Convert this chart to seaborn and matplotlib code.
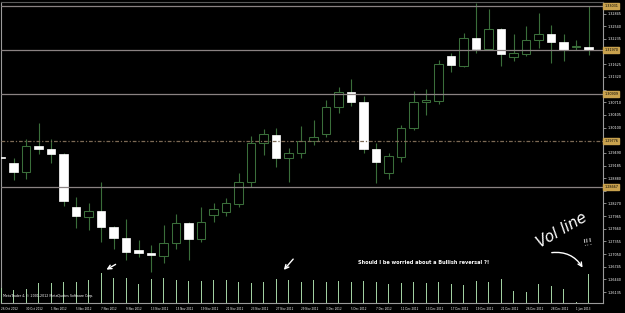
import numpy as np
import pandas as pd
import matplotlib
matplotlib.use("Agg")
import matplotlib.pyplot as plt
import seaborn as sns

# ---------------- data (EURUSD daily) ----------------
dates = ["26 Oct 2012", "29 Oct 2012", "30 Oct 2012", "31 Oct 2012", "1 Nov 2012", "2 Nov 2012",
         "5 Nov 2012", "6 Nov 2012", "7 Nov 2012", "8 Nov 2012", "9 Nov 2012", "12 Nov 2012",
         "13 Nov 2012", "14 Nov 2012", "15 Nov 2012", "16 Nov 2012", "19 Nov 2012", "20 Nov 2012",
         "21 Nov 2012", "22 Nov 2012", "23 Nov 2012", "26 Nov 2012", "27 Nov 2012", "28 Nov 2012",
         "29 Nov 2012", "30 Nov 2012", "3 Dec 2012", "4 Dec 2012", "5 Dec 2012", "6 Dec 2012",
         "7 Dec 2012", "10 Dec 2012", "11 Dec 2012", "12 Dec 2012", "13 Dec 2012", "14 Dec 2012",
         "17 Dec 2012", "18 Dec 2012", "19 Dec 2012", "20 Dec 2012", "21 Dec 2012", "24 Dec 2012",
         "26 Dec 2012", "27 Dec 2012", "28 Dec 2012", "31 Dec 2012", "1 Jan 2013", "2 Jan 2013"]

open_ = [1.29391, 1.29246, 1.29029, 1.29656, 1.29584, 1.29463, 1.28185, 1.27945, 1.28089, 1.27704,
         1.27439, 1.27149, 1.27077, 1.27005, 1.27318, 1.27800, 1.27414, 1.27993, 1.28065, 1.28258,
         1.28788, 1.29728, 1.29921, 1.29367, 1.29487, 1.29776, 1.29945, 1.30596, 1.30957, 1.30716,
         1.29584, 1.29005, 1.29391, 1.30090, 1.30716, 1.30740, 1.31825, 1.31584, 1.32259, 1.31994,
         1.32476, 1.31801, 1.31873, 1.32211, 1.32356, 1.32163, 1.32042, 1.32042]
high = [1.29415, 1.29367, 1.29825, 1.30210, 1.29825, 1.29487, 1.28426, 1.28282, 1.28788, 1.27728,
        1.27896, 1.27390, 1.27270, 1.27752, 1.28017, 1.27824, 1.28185, 1.28282, 1.28402, 1.29005,
        1.29897, 1.30065, 1.30090, 1.29608, 1.30138, 1.30282, 1.30764, 1.31078, 1.31271, 1.30861,
        1.29728, 1.29487, 1.30162, 1.30981, 1.31030, 1.31729, 1.31898, 1.32380, 1.33103, 1.32958,
        1.32500, 1.32356, 1.32548, 1.32862, 1.32573, 1.32356, 1.32211, 1.33031]
low = [1.29343, 1.28836, 1.28860, 1.29463, 1.29246, 1.28210, 1.27680, 1.27631, 1.27342, 1.27173,
       1.26908, 1.26981, 1.26619, 1.26836, 1.27173, 1.26908, 1.27342, 1.27824, 1.27969, 1.28185,
       1.28667, 1.29439, 1.29150, 1.28788, 1.29367, 1.29680, 1.29873, 1.30451, 1.30620, 1.29487,
       1.28764, 1.28860, 1.29270, 1.30041, 1.30403, 1.30668, 1.31439, 1.31560, 1.31898, 1.31970,
       1.31584, 1.31705, 1.31825, 1.32018, 1.31656, 1.31705, 1.31970, 1.31849]
close = [1.29367, 1.29029, 1.29656, 1.29584, 1.29463, 1.28330, 1.27969, 1.28089, 1.27704, 1.27439,
         1.27101, 1.27077, 1.27029, 1.27318, 1.27800, 1.27414, 1.27824, 1.28137, 1.28282, 1.28788,
         1.29728, 1.29945, 1.29367, 1.29487, 1.29776, 1.29873, 1.30596, 1.30957, 1.30716, 1.29584,
         1.29270, 1.29415, 1.30090, 1.30716, 1.30764, 1.31632, 1.31608, 1.32259, 1.31994, 1.32476,
         1.31873, 1.31898, 1.32211, 1.32356, 1.32163, 1.31970, 1.32066, 1.31970]
volume = [45000, 39000, 42000, 60000, 60000, 63000, 63000, 69000, 90000, 75000,
          75000, 57000, 72000, 75000, 69000, 66000, 66000, 69000, 69000, 63000,
          60000, 63000, 72000, 69000, 63000, 69000, 63000, 66000, 63000, 66000,
          63000, 57000, 60000, 63000, 60000, 63000, 57000, 54000, 66000, 63000,
          72000, 36000, 33000, 57000, 51000, 42000, 3000, 87000]

hline_prices = [1.33031, 1.31970, 1.30909, 1.28667]
dotted_price = 1.29776
price_ticks = ["1.26135", "1.26440", "1.26745", "1.27050", "1.27355", "1.27660", "1.27965",
               "1.28270", "1.28575", "1.28880", "1.29185", "1.29490", "1.29795", "1.30100",
               "1.30405", "1.30710", "1.31015", "1.31320", "1.31625", "1.31930", "1.32235",
               "1.32540", "1.32845"]

df = pd.DataFrame({"date": dates, "open": open_, "high": high, "low": low,
                   "close": close, "volume": volume})
df["i"] = np.arange(len(df))

# ---------------- style ----------------
sns.set_theme(style="dark", rc={"axes.facecolor": "black", "figure.facecolor": "black",
                                "axes.grid": False})
plt.rcParams["font.family"] = ["DejaVu Sans"]

W, H = 625, 313
fig = plt.figure(figsize=(W / 100, H / 100), dpi=100)
fig.patch.set_facecolor("black")

def fx(px):
    return px / W

def fy(py):
    return 1 - py / H

ax = fig.add_axes([fx(1), fy(303), fx(603) - fx(1), fy(2) - fy(303)])
ax.set_facecolor("black")

wick_col = "#3a6e3a"
x = df["i"].to_numpy()
o = df["open"].to_numpy(); c = df["close"].to_numpy()
up = c >= o
body_lo = np.minimum(o, c)
body_h = np.abs(c - o)

ax.vlines(x, df["low"], df["high"], color=wick_col, lw=0.8, zorder=2)
ax.bar(x[up], body_h[up], bottom=body_lo[up], width=0.7, facecolor="black",
       edgecolor=wick_col, linewidth=0.75, zorder=3)
ax.bar(x[~up], body_h[~up], bottom=body_lo[~up], width=0.68, facecolor="white",
       edgecolor="white", linewidth=0.5, zorder=3)

line_col = "#8a8282"
for p in hline_prices:
    ax.axhline(p, color=line_col, lw=0.9, zorder=5)
ax.axhline(dotted_price, color="#7d6a55", lw=0.9, ls=(0, (3, 1.5, 1, 1.5)), zorder=5)

# volume bars (overlay at the bottom of the chart)
axv = ax.twinx()
sns.barplot(data=df, x="i", y="volume", native_scale=True, width=0.08, color="#a0d0a0",
            saturation=1, linewidth=0, ax=axv)
axv.set_ylim(0, max(volume) * 10.0)
axv.set_yticks([])
axv.set_ylabel("")
axv.tick_params(right=False, labelright=False)
for s in axv.spines.values():
    s.set_visible(False)

ax.set_xlim(0, 48.16)
ax.set_ylim(1.25870, 1.33127)

# axes / ticks (labels hidden under the line tags are left blank)
tag_vals = hline_prices + [dotted_price]
shown = [t if min(abs(float(t) - v) for v in tag_vals) > 0.0012 else "" for t in price_ticks]
ax.yaxis.tick_right()
ax.set_yticks([float(t) for t in price_ticks])
ax.set_yticklabels(shown)
ax.set_xticks(x[::2])
ax.set_xticklabels(df["date"].iloc[::2], ha="left")
ax.tick_params(axis="y", colors="#c0c0c0", labelcolor="white", labelsize=2.4,
               length=2, width=0.5, pad=1)
ax.tick_params(axis="x", colors="#c0c0c0", labelcolor="white", labelsize=2.0,
               length=2, width=0.5, pad=1)
ax.set_xlabel(""); ax.set_ylabel("")
for side, s in ax.spines.items():
    s.set_color("#9a9a9a")
    s.set_linewidth(0.8)
ax.spines["top"].set_color("#5a5a5a")

# price tags for horizontal lines
for p in tag_vals:
    ax.text(1.002, p, f"{p:.5f}", transform=ax.get_yaxis_transform(), ha="left", va="center",
            fontsize=2.4, color="black", clip_on=False, zorder=10,
            bbox=dict(boxstyle="square,pad=0.25", facecolor="#c9a24e", edgecolor="#c9a24e"))

# texts
fig.text(fx(3), fy(296), "MetaTrader 4, © 2001-2012 MetaQuotes Software Corp.", color="white",
         fontsize=2.3, ha="left", va="center")
fig.text(fx(358), fy(263), "Should I be worried about a Bullish reversal ?!", color="white",
         fontsize=3.6, fontweight="bold", ha="left", va="center")
fig.text(fx(562), fy(230), "Vol line", color="white", fontsize=11, rotation=30,
         fontstyle="italic", fontweight="light", ha="center", va="center")
fig.text(fx(588), fy(243), "!!!", color="white", fontsize=6, rotation=10,
         ha="center", va="center")

arrow = dict(arrowstyle="->", color="white", lw=1.0, mutation_scale=7)
fig.add_artist(matplotlib.patches.FancyArrowPatch((fx(118), fy(263)), (fx(104), fy(271)),
               transform=fig.transFigure, **arrow))
fig.add_artist(matplotlib.patches.FancyArrowPatch((fx(295), fy(257)), (fx(282), fy(272)),
               transform=fig.transFigure, **arrow))
fig.add_artist(matplotlib.patches.FancyArrowPatch((fx(549), fy(253)), (fx(584), fy(270)),
               transform=fig.transFigure, connectionstyle="arc3,rad=-0.35", **arrow))

fig.savefig("out.png", dpi=100, facecolor="black")
